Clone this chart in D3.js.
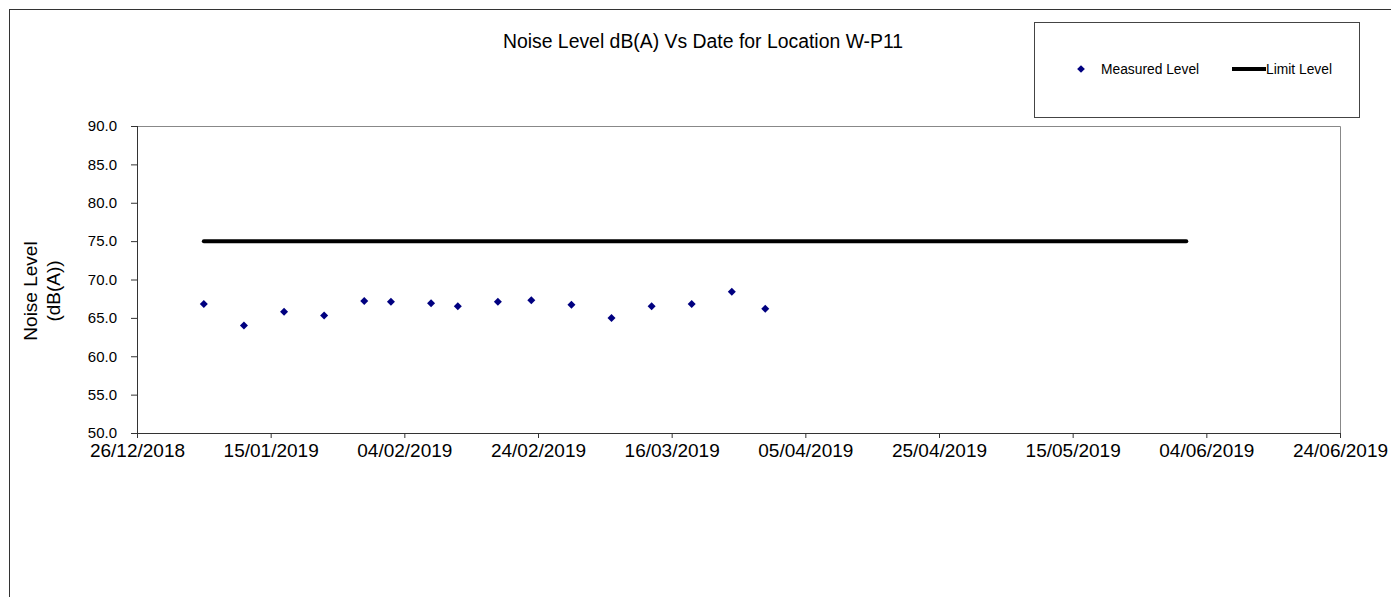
<!DOCTYPE html>
<html>
<head>
<meta charset="utf-8">
<script src="https://cdn.jsdelivr.net/npm/d3@7"></script>
<style>
  body { margin: 0; background: #fff; }
  svg { font-family: "Liberation Sans", Arial, sans-serif; display: block; }
  .axis path, .axis line { stroke: #333; }
  .axis text { fill: #000; }
</style>
</head>
<body>
<div class="g-chart"></div>
<script>
//Local data
var dates = ["05/01/2019", "11/01/2019", "17/01/2019", "23/01/2019", "29/01/2019", "02/02/2019",
             "08/02/2019", "12/02/2019", "18/02/2019", "23/02/2019", "01/03/2019", "07/03/2019",
             "13/03/2019", "19/03/2019", "25/03/2019", "30/03/2019"];
var measured = [66.8, 64.0, 65.8, 65.3, 67.2, 67.1, 66.9, 66.5, 67.1, 67.3, 66.7, 65.0, 66.5, 66.8, 68.4, 66.2];

var limitDates = ["05/01/2019", "01/06/2019"];
var limitValues = [75, 75];

var xTicks = ["26/12/2018", "15/01/2019", "04/02/2019", "24/02/2019", "16/03/2019",
              "05/04/2019", "25/04/2019", "15/05/2019", "04/06/2019", "24/06/2019"];
var yTicks = [50, 55, 60, 65, 70, 75, 80, 85, 90];

//Chart title
var headline = "Noise Level dB(A) Vs Date for Location W-P11";

var parseDate = d3.timeParse("%d/%m/%Y");
var fmt = d3.timeFormat("%d/%m/%Y");

//Margin conventions
var margin = {top: 126, left: 137, right: 51, bottom: 164};
var W = 1391, H = 597;
var width = W - margin.left - margin.right,
    height = H - margin.top - margin.bottom;

var svg0 = d3.select(".g-chart").append("svg")
  .attr("width", W)
  .attr("height", H);

//Outer chart border
svg0.append("rect")
  .attr("x", 9.5).attr("y", 9.5)
  .attr("width", W + 20).attr("height", H + 20)
  .attr("fill", "none").attr("stroke", "#333");

//Title
svg0.append("text")
  .attr("x", 703).attr("y", 48)
  .attr("text-anchor", "middle")
  .style("font-size", "19.4px")
  .text(headline);

//Legend
var legend = svg0.append("g").attr("transform", "translate(1034,22)");
legend.append("rect")
  .attr("x", 0.5).attr("y", 0.5).attr("width", 325).attr("height", 95)
  .attr("fill", "#fff").attr("stroke", "#444");
legend.append("path")
  .attr("d", d3.symbol().type(d3.symbolSquare).size(30))
  .attr("transform", "translate(47,47) rotate(45)")
  .attr("fill", "#000080");
legend.append("text")
  .attr("x", 67).attr("y", 52)
  .style("font-size", "13.8px")
  .text("Measured Level");
legend.append("line")
  .attr("x1", 198).attr("x2", 232).attr("y1", 47).attr("y2", 47)
  .attr("stroke", "#000").attr("stroke-width", 4);
legend.append("text")
  .attr("x", 232).attr("y", 52)
  .style("font-size", "13.8px")
  .text("Limit Level");

var svg = svg0.append("g")
  .attr("transform", "translate(" + margin.left + "," + margin.top + ")");

//Scales
var xScale = d3.scaleTime()
  .domain([parseDate(xTicks[0]), parseDate(xTicks[xTicks.length - 1])])
  .range([0, width]);

var yScale = d3.scaleLinear()
  .domain([50, 90])
  .range([height, 0]);

//Plot frame (top and right)
svg.append("path")
  .attr("d", "M0.5,0.5H" + (width + 0.5) + "V" + height)
  .attr("fill", "none").attr("stroke", "#888");

//Axes
var yAxis = d3.axisLeft(yScale)
  .tickValues(yTicks)
  .tickFormat(d3.format(".1f"))
  .tickSize(6)
  .tickPadding(14);

var xAxis = d3.axisBottom(xScale)
  .tickValues(xTicks.map(parseDate))
  .tickFormat(fmt)
  .tickSize(5)
  .tickPadding(6);

svg.append("g")
  .attr("class", "y axis")
  .call(yAxis)
  .call(function(g) { g.select(".domain").attr("d", "M0.5,0V" + (height + 0.5)); })
  .selectAll("text")
  .style("font-size", "15px");

svg.append("g")
  .attr("class", "x axis")
  .attr("transform", "translate(0," + height + ")")
  .call(xAxis)
  .call(function(g) { g.select(".domain").attr("d", "M0," + 0.5 + "H" + (width + 0.5)); })
  .selectAll("text")
  .style("font-size", "19px");

//Y axis title
var yTitle = svg0.append("text")
  .attr("transform", "translate(37,291) rotate(-90)")
  .attr("text-anchor", "middle")
  .style("font-size", "19px");
yTitle.append("tspan").attr("x", 0).attr("dy", 0).text("Noise Level");
yTitle.append("tspan").attr("x", 0).attr("dy", 23).text("(dB(A))");

//Limit line
var limitData = limitDates.map(function(d, i) { return {date: parseDate(d), value: limitValues[i]}; });
svg.append("path")
  .datum(limitData)
  .attr("fill", "none")
  .attr("stroke", "#000")
  .attr("stroke-width", 4)
  .attr("stroke-linecap", "round")
  .attr("d", d3.line()
    .x(function(d) { return xScale(d.date); })
    .y(function(d) { return yScale(d.value); }));

//Measured points
var points = dates.map(function(d, i) { return {date: parseDate(d), value: measured[i]}; });
svg.selectAll(".pt")
  .data(points)
  .enter()
  .append("path")
  .attr("class", "pt")
  .attr("d", d3.symbol().type(d3.symbolSquare).size(32))
  .attr("transform", function(d) {
    return "translate(" + xScale(d.date) + "," + yScale(d.value) + ") rotate(45)";
  })
  .attr("fill", "#000080");
</script>
</body>
</html>
